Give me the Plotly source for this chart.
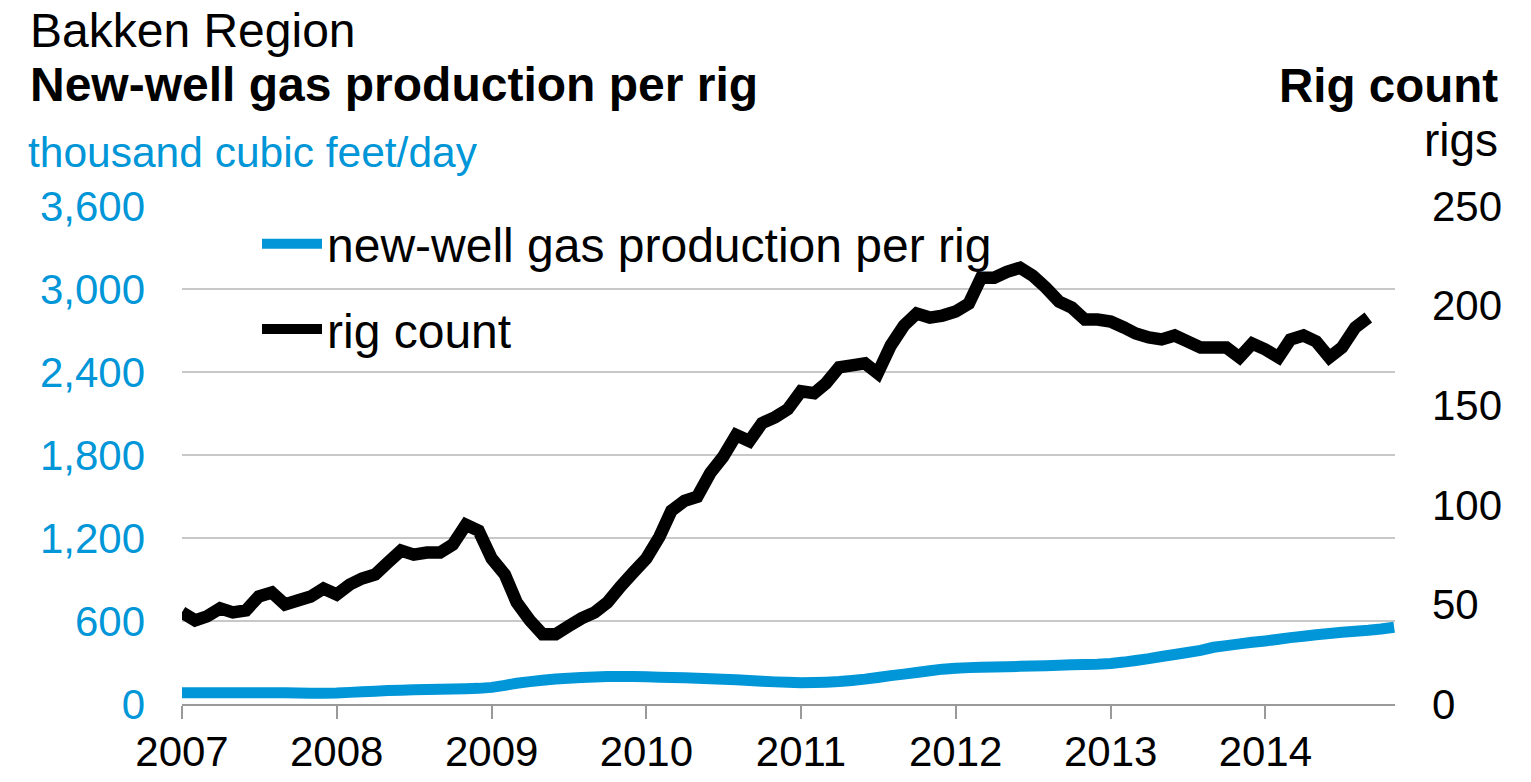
import plotly.graph_objects as go
import pandas as pd

# ---- data ----
rig_dates = pd.date_range("2007-01-01", "2014-09-01", freq="MS")
rig_count = [
    46, 42, 44, 48, 46, 47, 54, 56, 50, 52, 54, 58,          # 2007
    55, 60, 63, 65, 71, 77, 75, 76, 76, 80, 90, 87,          # 2008
    73, 65, 51, 42, 35, 35, 39, 43, 46, 51, 59, 66,          # 2009
    73, 84, 97, 102, 104, 116, 124, 135, 132, 141, 144, 148, # 2010
    157, 156, 161, 169, 170, 171, 166, 180, 190, 196, 194, 195,  # 2011
    197, 201, 214, 214, 217, 219, 215, 209, 202, 199, 193, 193,  # 2012
    192, 189, 186, 184, 183, 185, 182, 179, 179, 179, 174, 181,  # 2013
    178, 174, 183, 185, 182, 174, 179, 189, 194,                 # 2014
]

gas_dates = pd.date_range("2007-01-01", "2014-11-01", freq="MS")
gas_per_rig = [
    82, 82, 82, 82, 82, 82, 82, 82, 81, 80, 78, 77,          # 2007
    79, 84, 89, 93, 97, 100, 103, 105, 107, 109, 111, 113,   # 2008
    120, 135, 150, 162, 172, 180, 186, 191, 195, 198, 199, 199,  # 2009
    197, 194, 192, 189, 186, 183, 179, 175, 170, 165, 160, 157,  # 2010
    153, 155, 158, 162, 170, 180, 192, 205, 216, 228, 240, 252,  # 2011
    258, 263, 266, 268, 270, 272, 274, 277, 280, 283, 286, 288,  # 2012
    293, 303, 315, 328, 343, 358, 372, 388, 410, 422, 435, 446,  # 2013
    456, 468, 480, 490, 500, 509, 518, 526, 533, 542, 555,       # 2014
]

year_ticks = [f"{y}-01-01" for y in range(2007, 2015)]
year_labels = [str(y) for y in range(2007, 2015)]
left_ticks = [0, 600, 1200, 1800, 2400, 3000, 3600]
right_ticks = [0, 50, 100, 150, 200, 250]

BLUE = "#0096D7"
FONT = "Liberation Sans, Arial, sans-serif"

# ---- geometry helpers (plot area in pixels) ----
W, H = 1531, 782
L, R, T, B = 182, 1395, 206, 704


def px_x(p):
    return (p - L) / (R - L)


def px_y(p):
    return (B - p) / (B - T)


fig = go.Figure()
fig.add_trace(go.Scatter(
    x=gas_dates, y=gas_per_rig, mode="lines", name="new-well gas production per rig",
    line=dict(color=BLUE, width=11, simplify=False), yaxis="y", legendgroup="a",
))
fig.add_trace(go.Scatter(
    x=rig_dates, y=rig_count, mode="lines", name="rig count",
    line=dict(color="black", width=12.5, simplify=False), yaxis="y2", legendgroup="b",
))

fig.update_layout(
    width=W, height=H,
    margin=dict(l=L, r=W - R, t=T, b=H - B, pad=0, autoexpand=False),
    paper_bgcolor="white", plot_bgcolor="white",
    font=dict(family=FONT, color="black"),
    showlegend=True,
    legend=dict(
        x=px_x(257), y=px_y(206), xanchor="left", yanchor="top",
        font=dict(size=48, family=FONT, color="black"),
        bgcolor="rgba(0,0,0,0)", borderwidth=0,
        traceorder="grouped", tracegroupgap=20, itemwidth=60,
    ),
    xaxis=dict(
        type="date", range=["2007-01-01", "2014-11-03"],
        tickmode="array", tickvals=year_ticks, ticktext=year_labels,
        ticks="outside", ticklen=13, tickwidth=2, tickcolor="#9a9a9a",
        showline=True, linecolor="#9a9a9a", linewidth=2,
        showgrid=False, zeroline=False, automargin=False,
        tickfont=dict(size=42, color="black"),
        ticklabelstandoff=-3,
    ),
    yaxis=dict(
        range=[0, 3600], tickmode="array", tickvals=left_ticks,
        tickformat=",", tickfont=dict(size=42, color=BLUE),
        showgrid=True, gridcolor="#c8c8c8", gridwidth=1.5,
        zeroline=False, showline=False, ticks="", automargin=False,
        ticklabelstandoff=36,
    ),
    yaxis2=dict(
        range=[0, 250], tickmode="array", tickvals=right_ticks,
        overlaying="y", side="right", anchor="x",
        tickfont=dict(size=42, color="black"), automargin=False,
        showgrid=False, zeroline=False, showline=False, ticks="",
        ticklabelstandoff=36,
    ),
    annotations=[
        dict(text="Bakken Region", x=px_x(28), y=px_y(30), xref="paper", yref="paper",
             xanchor="left", yanchor="middle", showarrow=False,
             font=dict(size=48, color="black")),
        dict(text="<b>New-well gas production per rig</b>", x=px_x(28), y=px_y(84),
             xref="paper", yref="paper", xanchor="left", yanchor="middle", showarrow=False,
             font=dict(size=48, color="black")),
        dict(text="thousand cubic feet/day", x=px_x(26), y=px_y(152), xref="paper", yref="paper",
             xanchor="left", yanchor="middle", showarrow=False,
             font=dict(size=42.5, color=BLUE)),
        dict(text="<b>Rig count</b>", x=px_x(1500), y=px_y(86), xref="paper", yref="paper",
             xanchor="right", yanchor="middle", showarrow=False,
             font=dict(size=47.5, color="black")),
        dict(text="rigs", x=px_x(1500), y=px_y(140), xref="paper", yref="paper",
             xanchor="right", yanchor="middle", showarrow=False,
             font=dict(size=46, color="black")),
    ],
)

fig.write_html("out.html", config={"displayModeBar": False},
               post_script="document.body.style.margin='0';")
